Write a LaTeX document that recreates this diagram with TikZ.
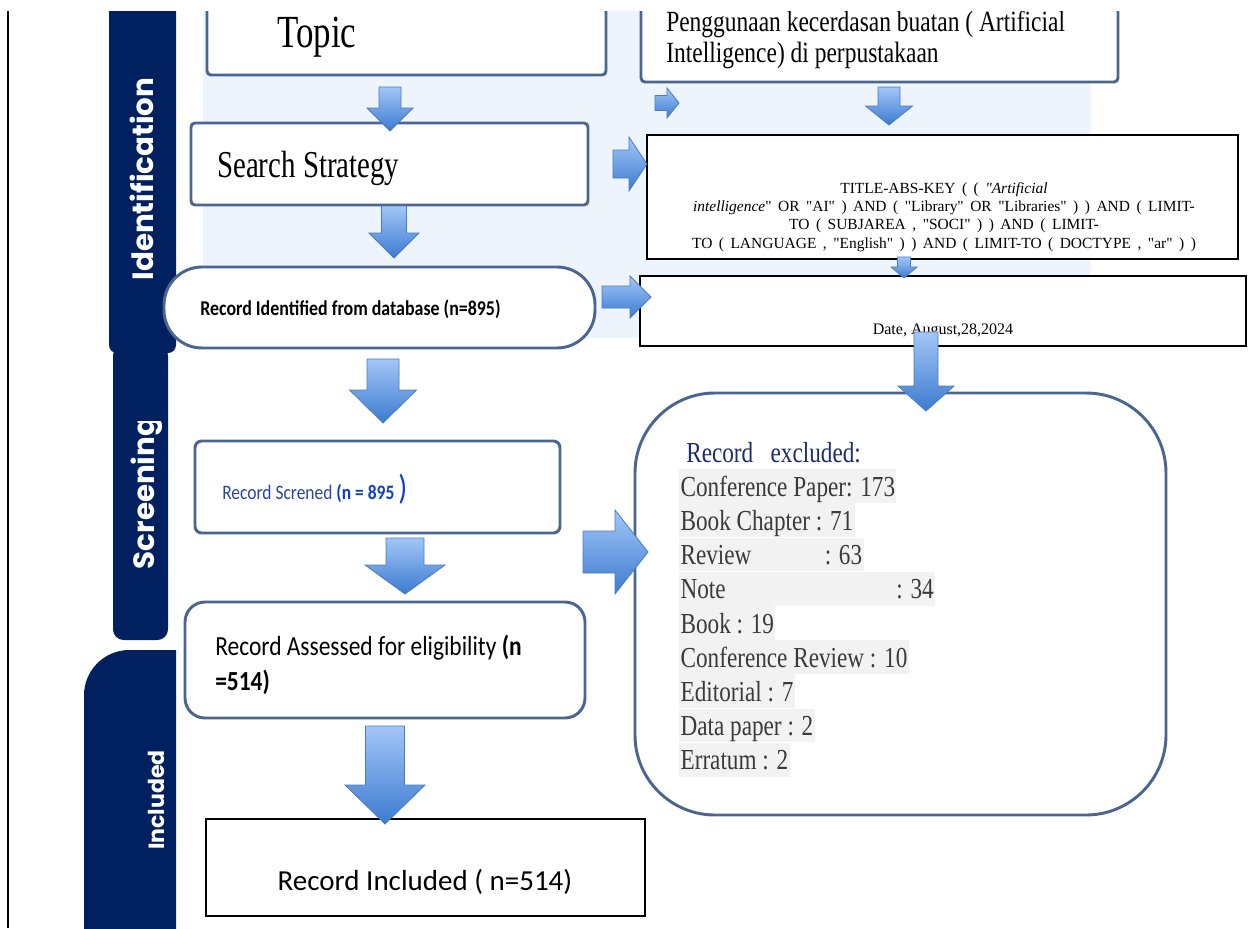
\documentclass[tikz,border=0pt]{standalone}
\usepackage{fontspec}
\setmainfont{Liberation Serif}
\newfontfamily\narrowserif{Liberation Serif}[FakeStretch=0.8]
\newfontfamily\tallserif{Liberation Serif}[FakeStretch=0.76]
\newfontfamily\calibri{Carlito}[FakeStretch=0.85]
\newfontfamily\calibriwide{Carlito}
\newfontfamily\bandfont{Poppins}
\usepackage{xcolor}
\usepackage{tikz}
\usetikzlibrary{positioning}

\definecolor{navyband}{HTML}{002060}
\definecolor{boxline}{HTML}{4A6690}
\definecolor{bgblue}{HTML}{EEF4FC}
\definecolor{arrtop}{HTML}{A3C6F7}
\definecolor{arrbot}{HTML}{3C7BD0}
\definecolor{arrline}{HTML}{4A7BC0}
\definecolor{hlgray}{HTML}{F2F2F2}
\definecolor{exgray}{HTML}{3A3A3A}
\definecolor{exhead}{HTML}{1C2C6C}
\definecolor{scrtext}{HTML}{2A46A8}
\definecolor{scrnum}{HTML}{0B3FD0}

\newcommand{\dq}{\textquotedbl}
% block arrows: centre x, top, head start, tip, shaft half width, head half width
\newcommand{\blockdown}[6]{%
  \shadedraw[blockarrow] (#1-#5,#2) -- (#1+#5,#2) -- (#1+#5,#3) -- (#1+#6,#3) -- (#1,#4) -- (#1-#6,#3) -- (#1-#5,#3) -- cycle;}
% left, head start, tip, centre y, shaft half width, head half width
\newcommand{\blockright}[6]{%
  \shadedraw[blockarrow] (#1,#4-#5) -- (#2,#4-#5) -- (#2,#4-#6) -- (#3,#4) -- (#2,#4+#6) -- (#2,#4+#5) -- (#1,#4+#5) -- cycle;}

\begin{document}
\begin{tikzpicture}[
                x=0.75pt, y=-0.75pt,
                box/.style={draw=boxline, line width=2.2pt, fill=white, rounded corners=3pt, inner sep=0pt},
                plainbox/.style={draw=black, line width=1.2pt, fill=white, inner sep=0pt},
                txt/.style={inner sep=0pt},
                bandlabel/.style={rotate=90, anchor=base, text=white, inner sep=0pt},
                blockarrow/.style={top color=arrtop, bottom color=arrbot, draw=arrline, line width=0.6pt},
                exline/.style={fill=hlgray, text=exgray, inner xsep=1pt, inner ysep=0pt, text height=20.25pt, text depth=5pt, font=\narrowserif\fontsize{21.75pt}{25pt}\selectfont}
                ]
                \useasboundingbox (0,0) rectangle (1259,928);
                \begin{scope}
                \clip (0,11) rectangle (1259,928);

                % Background of the identification stage
                \fill[bgblue] (203,0) rectangle (1091,338);
                \draw[line width=1.4pt] (8,0) -- (8,928);

                % Stage bands
                \fill[navyband, rounded corners=6pt] (109,-20) rectangle (176,353);
                \fill[navyband, rounded corners=8pt] (113,345) rectangle (168,640);
                \begin{scope}
                \clip (0,640) rectangle (176,940);
                \fill[navyband, rounded corners=34pt] (84,650) rectangle (260,990);
                \end{scope}
                \node[bandlabel, font=\bandfont\bfseries\fontsize{22pt}{24pt}\selectfont] (identlabel) at (153,179) {Identification};
                \begin{scope}
                \clip (100,421) rectangle (180,650);
                \node[bandlabel, font=\bandfont\bfseries\fontsize{22pt}{24pt}\selectfont] (screenlabel) at (154,493) {Screening};
                \end{scope}
                \node[bandlabel, font=\bandfont\bfseries\fontsize{16.5pt}{18pt}\selectfont] (includelabel) at (164,800) {Included};

                % Boxes
                \node[box, minimum width=299.25pt, minimum height=57pt] (topic) at (406.5,37) {};
                \node[box, minimum width=357.75pt, minimum height=62.25pt] (theme) at (879.5,40.5) {};
                \node[box, minimum width=297.75pt, minimum height=61.5pt] (search) at (389.5,164) {};
                \node[plainbox, minimum width=443.25pt, minimum height=93pt] (query) at (942.5,197) {};
                \node[box, rounded corners=28.5pt, minimum width=323.25pt, minimum height=60.75pt] (identified) at (379.5,307.5) {};
                \node[plainbox, minimum width=454.5pt, minimum height=52.5pt] (date) at (943,311) {};
                \node[box, rounded corners=5pt, minimum width=273.75pt, minimum height=69pt] (screened) at (377.5,487) {};
                \node[box, rounded corners=15pt, minimum width=300pt, minimum height=87pt] (assessed) at (385,660) {};
                \node[box, rounded corners=60pt, minimum width=398.25pt, minimum height=316.5pt] (excluded) at (900.5,604) {};
                \node[plainbox, minimum width=329.25pt, minimum height=72.75pt] (included) at (425.5,867.5) {};

                % Box texts (multi-line nodes sit on the baseline of their last line)
                \node[txt, anchor=base west, font=\tallserif\fontsize{34.5pt}{40pt}\selectfont] (topictext) at (277,47) {Topic};
                \node[txt, anchor=base west, align=left, font=\narrowserif\fontsize{22pt}{23.25pt}\selectfont] (themetext) at (666,62.7) {Penggunaan kecerdasan buatan ( Artificial\\Intelligence) di perpustakaan};
                \node[txt, anchor=base west, font=\tallserif\fontsize{28.5pt}{34pt}\selectfont] (searchtext) at (217,177) {Search Strategy};
                \node[txt, anchor=base, align=center, font={\fontsize{11.6pt}{13.7pt}\selectfont\spaceskip=0.42em plus 0.1em}] (querytext) at (944,248) {TITLE-ABS-KEY ( ( \textit{\dq Artificial}\\\textit{intelligence}\dq{} OR \dq AI\dq{} ) AND ( \dq Library\dq{} OR \dq Libraries\dq{} ) ) AND ( LIMIT-\\TO ( SUBJAREA , \dq SOCI\dq{} ) ) AND ( LIMIT-\\TO ( LANGUAGE , \dq English\dq{} ) ) AND ( LIMIT-TO ( DOCTYPE , \dq ar\dq{} ) )};
                \node[txt, anchor=base, font=\fontsize{12pt}{14pt}\selectfont] (datetext) at (943,334) {Date, August,28,2024};
                \node[txt, anchor=base west, font=\calibri\bfseries\fontsize{15.8pt}{18pt}\selectfont] (identtext) at (200,315) {Record Identified from database (n=895)};
                \node[txt, anchor=base west, font=\calibri\fontsize{15.4pt}{18pt}\selectfont] (screentext) at (222,499) {\textcolor{scrtext}{Record Screned} \textcolor{scrnum}{\textbf{(n = 895} {\fontsize{26pt}{26pt}\selectfont )}}};
                \node[txt, anchor=base west, align=left, font=\calibri\fontsize{20.7pt}{26.25pt}\selectfont] (assesstext) at (215,690) {Record Assessed for eligibility \textbf{(n}\\\textbf{=514)}};
                \node[txt, anchor=base, font=\calibriwide\fontsize{21.75pt}{25pt}\selectfont] (includetext) at (425,890) {Record Included ( n=514)};

                % Excluded records list
                \node[txt, anchor=base west, text=exhead, font=\narrowserif\fontsize{21.75pt}{25pt}\selectfont] (exheading) at (686,462) {Record\hspace{0.6em}excluded:};
                \node[exline, anchor=north west] (ex1) at (679,469) {Conference Paper: 173};
                \node[exline, below right=0pt and 0pt of ex1.south west] (ex2) {Book Chapter : 71};
                \node[exline, below right=0pt and 0pt of ex2.south west] (ex3) {Review\hspace{55pt}: 63};
                \node[exline, below right=0pt and 0pt of ex3.south west] (ex4) {Note\hspace{128pt}: 34};
                \node[exline, below right=0pt and 0pt of ex4.south west] (ex5) {Book : 19};
                \node[exline, below right=0pt and 0pt of ex5.south west] (ex6) {Conference Review : 10};
                \node[exline, below right=0pt and 0pt of ex6.south west] (ex7) {Editorial : 7};
                \node[exline, below right=0pt and 0pt of ex7.south west] (ex8) {Data paper : 2};
                \node[exline, below right=0pt and 0pt of ex8.south west] (ex9) {Erratum : 2};

                % Block arrows
                \blockdown{390}{87}{108}{131}{11}{23}
                \blockright{655}{667}{679}{103}{7.5}{15}
                \blockdown{889}{87}{106}{125}{11}{23.5}
                \blockright{613}{629}{647}{164}{14}{27}
                \blockdown{394}{206}{233}{258}{12.5}{25}
                \blockdown{904}{257}{267}{278}{6.5}{13}
                \blockright{602}{630}{651}{297}{11}{21}
                \blockdown{926}{332}{386}{411}{12}{28}
                \blockdown{383}{359}{390}{423}{16}{33.5}
                \blockright{583}{615}{648}{552}{21}{42}
                \blockdown{405}{538}{565}{594}{19}{40}
                \blockdown{385}{726}{785}{824}{19.5}{40}
                \end{scope}
\end{tikzpicture}
\end{document}
